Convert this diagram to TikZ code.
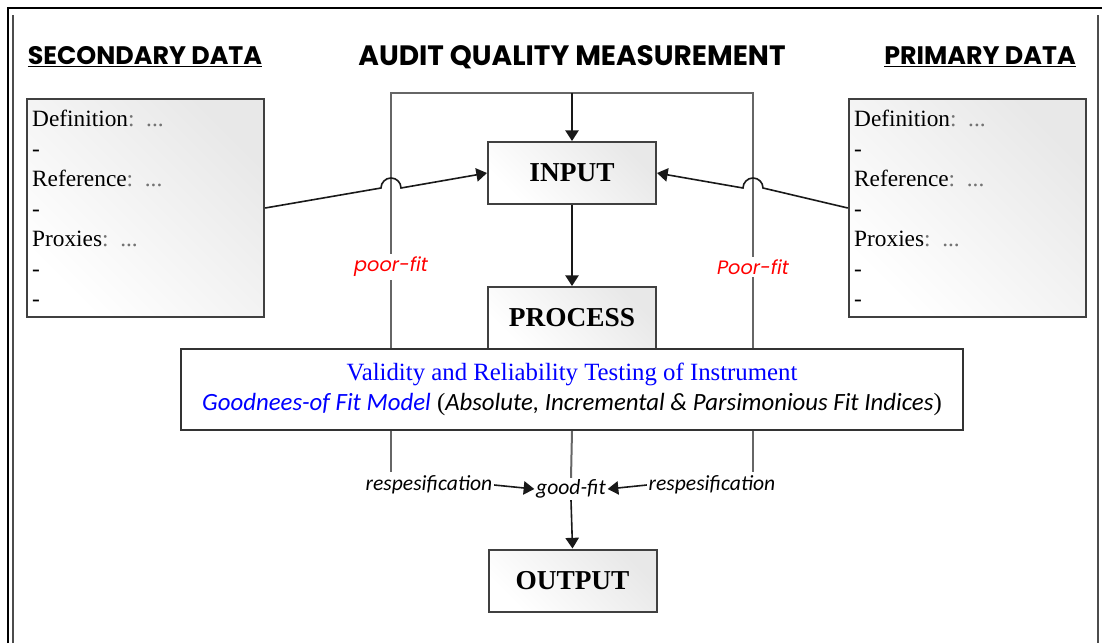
\documentclass[tikz,border=0pt]{standalone}
\usepackage{fontspec}
\setmainfont{Liberation Serif}
\newfontfamily\headfont{Poppins}
\newfontfamily\notefont{Carlito}
\usetikzlibrary{arrows.meta,calc}

\tikzset{every picture/.style={line width=0.75pt}}
\tikzset{
  heading/.style={font=\headfont\bfseries\fontsize{19}{21}\selectfont, inner sep=0.75pt},
  databox/.style={draw=black!75, line width=1.5pt, top color=black!9, bottom color=white, shading angle=-45,
    minimum width=177.75pt, minimum height=163.5pt, text width=170pt, align=left, inner sep=4pt,
    font=\fontsize{17.5}{22.5}\selectfont},
  stagebox/.style={draw=black!75, line width=1.5pt, top color=black!9, bottom color=white, shading angle=-45,
    minimum width=126pt, minimum height=46.5pt, font=\bfseries\fontsize{20.5}{24}\selectfont},
  testbox/.style={draw=black!80, line width=1.5pt, fill=white, minimum width=586.5pt, minimum height=60.75pt,
    align=center, font=\fontsize{18.6}{22.5}\selectfont},
  fitnote/.style={font=\headfont\itshape\fontsize{14.5}{16}\selectfont, text=red, fill=white, inner sep=2pt},
  respnote/.style={font=\notefont\itshape\fontsize{16.2}{18}\selectfont, inner sep=1pt},
  frameline/.style={line width=1.5pt, black!60},
  link/.style={line width=1.2pt, black!90},
  tip/.style={-{Triangle[length=8pt,width=10pt]}},
}
\newcommand{\dimdots}{{\color{black!55}: ...}}

\begin{document}
\begin{tikzpicture}[x=0.75pt,y=0.75pt,yscale=-1,xscale=1]
\useasboundingbox (0,0) rectangle (1102,643);

%Page frame
\draw [line width=2.2pt] (8,643) -- (8,8) -- (1102,8) ;
\draw [line width=1pt, black!70] (13,643) -- (13,15) ;
\draw [line width=1pt, black!70] (1098,15) -- (1098,643) ;

% Text Node
\node [heading] (secTitle) at (145,57) {\underline{SECONDARY DATA}};
% Text Node
\node [heading, font=\headfont\bfseries\fontsize{21}{23}\selectfont] (mainTitle) at (572,57) {AUDIT QUALITY MEASUREMENT};
% Text Node
\node [heading] (primTitle) at (980,57) {\underline{PRIMARY DATA}};

%Shape: Data boxes
\node [databox] (secBox) at (145.5,208) {Definition\dimdots\\-\\Reference\dimdots\\-\\Proxies\dimdots\\-\\-};
\node [databox] (primBox) at (967.5,208) {Definition\dimdots\\-\\Reference\dimdots\\-\\Proxies\dimdots\\-\\-};

%Feedback loop
\coordinate (loopTL) at (391,93);
\coordinate (loopTM) at (572,93);
\coordinate (loopTR) at (753,93);
\coordinate (loopBL) at (391,472);
\coordinate (loopBR) at (753,472);
\draw [frameline] (loopBL) -- (loopTL) -- (loopTR) -- (loopBR) ;

%Shape: Stage boxes
\node [stagebox] (input) at (572,173) {INPUT};
\node [stagebox] (process) at (572,318) {PROCESS};
\node [stagebox] (output) at (572.5,580.5) {OUTPUT};

%Shape: Testing box
\node [testbox] (testing) at (572,389.5) {{\color{blue}Validity and Reliability Testing of Instrument}\\
  {\notefont\itshape\color{blue}Goodnees-of Fit Model} ({\notefont\itshape Absolute, Incremental \& Parsimonious Fit Indices})};

% Text Node
\node [fitnote] (poorL) at (391,267) {poor-fit};
% Text Node
\node [fitnote] (poorR) at (753,267) {Poor-fit};
% Text Node
\node [respnote] (goodFit) at (571,489) {good-fit};
% Text Node
\node [respnote] (respL) at (429,485) {respesification};
% Text Node
\node [respnote] (respR) at (712,485) {respesification};

%Straight Lines
\draw [link, tip] (loopTM) -- (input.north) ;
\draw [link, tip] (input.south) -- (process.north) ;
\draw [frameline] (testing.south) -- (goodFit.north) ;
\draw [link, tip] (goodFit.south) -- (output.north) ;
\draw [link, tip] (respL.east) -- (goodFit.west) ;
\draw [link, tip] (respR.west) -- (goodFit.east) ;

%Connectors with hops
\coordinate (hopL) at (391,188);
\coordinate (hopR) at (753,188);
\draw [link, tip] (secBox.east) -- ($(hopL)+(-10,0)$) arc [start angle=180, end angle=360, radius=10] -- (input.west) ;
\draw [link, tip] (primBox.west) -- ($(hopR)+(10,0)$) arc [start angle=0, end angle=-180, radius=10] -- (input.east) ;

\end{tikzpicture}
\end{document}
